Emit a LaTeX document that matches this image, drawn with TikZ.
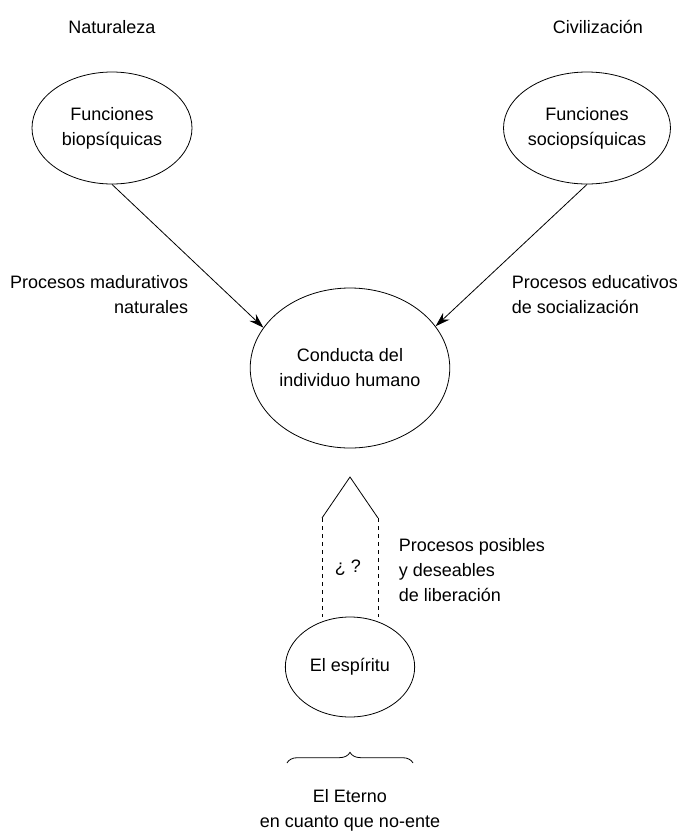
\documentclass[tikz,border=0pt]{standalone}
\usepackage{fontspec}
\setmainfont{Liberation Sans}
\usepackage{tikz}
\usetikzlibrary{shapes.geometric,arrows.meta,decorations.pathreplacing}

\begin{document}
\begin{tikzpicture}
  [x=0.75pt,y=-0.75pt,line width=.6pt,
   every node/.style={font=\fontsize{13.5}{18.75}\selectfont,align=center},
   bubble/.style={ellipse,draw,inner sep=0pt},
   flow/.style={-{Stealth[length=11pt,width=7pt]}}]
  \useasboundingbox (0,0) rectangle (676,833);

  \node (nat) at (112,27) {Naturaleza};
  \node (civ) at (598,27) {Civilización};

  \node[bubble,minimum width=120pt,minimum height=84pt] (bio) at (112,128) {Funciones\\biopsíquicas};
  \node[bubble,minimum width=120pt,minimum height=84pt] (soc) at (587,128) {Funciones\\sociopsíquicas};
  \node[bubble,minimum width=143pt,minimum height=120pt] (cond) at (350,368) {Conducta del\\individuo humano};
  \node[bubble,minimum width=97pt,minimum height=75pt] (esp) at (350,667) {El espíritu};

  \draw[flow] (bio.south) -- (cond.155);
  \draw[flow] (soc.south) -- (cond.26);

  \node[anchor=east,align=right] (mad) at (193,295) {Procesos madurativos\\naturales};
  \node[anchor=west,align=left] (edu) at (507,295) {Procesos educativos\\de socialización};

  % flecha hueca hacia la conducta
  \coordinate (tip) at (350,477);
  \coordinate (lsh) at (322,518);
  \coordinate (rsh) at (378,518);
  \draw (lsh) -- (tip) -- (rsh);
  \draw[dashed] (lsh) -- (lsh |- esp.north);
  \draw[dashed] (rsh) -- (rsh |- esp.north);
  \node (q) at (348,568) {¿ ?};
  \node[anchor=west,align=left] (lib) at (394,570) {Procesos posibles\\y deseables\\de liberación};

  \coordinate (bl) at (287,763);
  \coordinate (br) at (413,763);
  \draw[decorate,decoration={brace,amplitude=8pt}] (bl) -- (br);
  \node (eterno) at (350,810) {El Eterno\\en cuanto que no-ente};
\end{tikzpicture}
\end{document}
